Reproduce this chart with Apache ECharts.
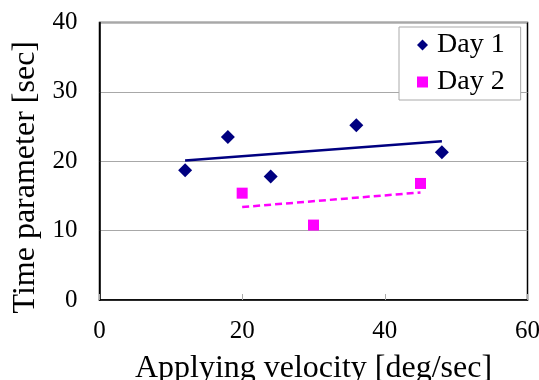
<!DOCTYPE html>
<html><head><meta charset="utf-8">
<script src="https://cdn.jsdelivr.net/npm/echarts@6/dist/echarts.min.js"></script>
<style>html,body{margin:0;padding:0;background:#fff}#c{width:539px;height:380px}</style>
</head><body><div id="c"></div>
<script>
const day1 = [[12, 18.7], [18, 23.5], [24, 17.8], [36, 25.2], [48, 21.3]];
const day2 = [[20, 15.4], [30, 10.8], [45, 16.8]];
const trend1 = [[12, 20.1], [48, 22.9]];
const trend2 = [[20, 13.4], [45, 15.5]];
const xTicks = [0, 20, 40, 60];
const yTicks = [0, 10, 20, 30, 40];

const F = '"Liberation Serif", "Times New Roman", serif';
const chart = echarts.init(document.getElementById('c'));
chart.setOption({
  animation: false,
  backgroundColor: '#fff',
  grid: { left: 99.5, top: 22.5, right: 11.5, bottom: 80, show: true, borderColor: '#000', borderWidth: 1.5, backgroundColor: 'transparent', containLabel: false, outerBoundsMode: 'none' },
  xAxis: {
    type: 'value', min: xTicks[0], max: xTicks[xTicks.length - 1], interval: 20,
    name: 'Applying velocity [deg/sec]', nameLocation: 'middle', nameGap: 53,
    nameTextStyle: { fontFamily: F, fontSize: 32, color: '#000' },
    axisLine: { lineStyle: { color: '#000', width: 1.5 } },
    axisTick: { show: true, inside: true, length: 6, lineStyle: { color: '#aaa' } },
    axisLabel: { fontFamily: F, fontSize: 25, color: '#000', margin: 19, hideOverlap: false },
    splitLine: { show: false }
  },
  yAxis: {
    type: 'value', min: yTicks[0], max: yTicks[yTicks.length - 1], interval: 10,
    name: 'Time parameter [sec]', nameLocation: 'middle', nameGap: 56,
    nameTextStyle: { fontFamily: F, fontSize: 32, color: '#000', padding: [0, 32, 0, 0] },
    axisLine: { show: true, lineStyle: { color: '#000', width: 1.5 } },
    axisTick: { show: false },
    axisLabel: { fontFamily: F, fontSize: 25, color: '#000', margin: 22 },
    splitLine: { show: true, lineStyle: { color: '#a8a8a8', width: 1 } }
  },
  legend: {
    left: 399, top: 27, orient: 'vertical',
    backgroundColor: '#fff', borderColor: '#aaa', borderWidth: 1,
    padding: [4, 16, 4, 18], itemGap: 9, itemWidth: 11, itemHeight: 11,
    textStyle: { fontFamily: F, fontSize: 28, color: '#000', padding: [0, 0, 0, 4] },
    data: [{ name: 'Day 1', icon: 'diamond', itemStyle: { opacity: 1 } }, { name: 'Day 2', icon: 'rect', itemStyle: { opacity: 1 } }]
  },
  series: [
    { name: 'Day 1', type: 'scatter', data: day1, symbol: 'diamond', symbolSize: 14, itemStyle: { color: '#000080', opacity: 1 }, z: 5 },
    { name: 'Day 2', type: 'scatter', data: day2, symbol: 'rect', symbolSize: 11, itemStyle: { color: '#ff00ff', opacity: 1 }, z: 5 },
    { name: 'trend1', type: 'line', data: trend1, showSymbol: false, symbol: 'none', lineStyle: { color: '#000080', width: 2.5 } },
    { name: 'trend2', type: 'line', data: trend2, showSymbol: false, symbol: 'none', lineStyle: { color: '#ff00ff', width: 2.5, type: [7, 4] } }
  ]
});
</script></body></html>
